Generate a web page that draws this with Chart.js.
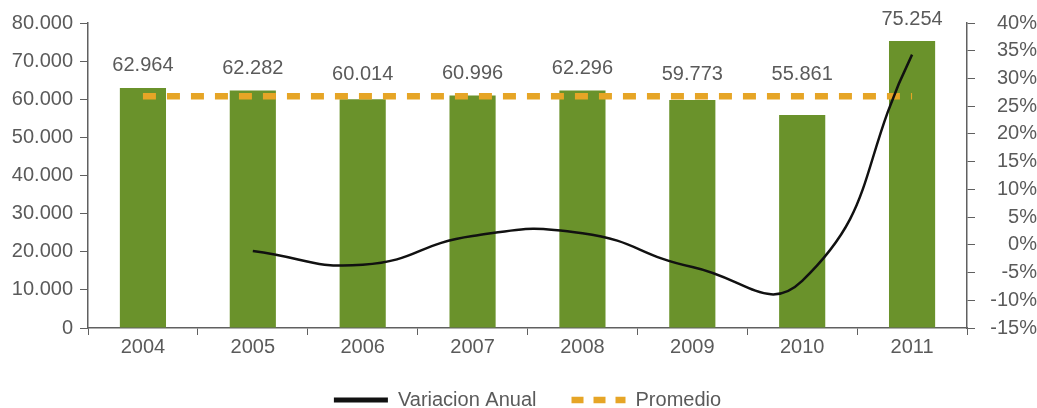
<!DOCTYPE html>
<html>
<head>
<meta charset="utf-8">
<script src="https://cdn.jsdelivr.net/npm/chart.js@4/dist/chart.umd.min.js"></script>
<style>
  html, body { margin: 0; padding: 0; background: #ffffff; }
  #wrap { width: 1037px; height: 408px; position: relative; }
</style>
</head>
<body>
<div id="wrap"><canvas id="c" width="1037" height="408"></canvas></div>
<script>
// ---- data ----
const categories = ['2004', '2005', '2006', '2007', '2008', '2009', '2010', '2011'];
const barValues = [62964, 62282, 60014, 60996, 62296, 59773, 55861, 75254];
const variacionAnual = [null, -1.1, -3.6, 1.6, 2.1, -4.0, -6.5, 34.3];
const promedio = [60800, 60800, 60800, 60800, 60800, 60800, 60800, 60800];
const leftTicks = { min: 0, max: 80000, step: 10000 };
const rightTicks = { min: -15, max: 40, step: 5 };

const FONT = '"Liberation Sans", Arial, sans-serif';
const GREY = '#5a5a5a';
const AXIS = '#606060';

function fmtThousands(v) {
  return String(v).replace(/\B(?=(\d{3})+(?!\d))/g, '.');
}

const barLabels = {
  id: 'barLabels',
  afterDatasetsDraw(chart) {
    const ctx = chart.ctx;
    const barMeta = chart.getDatasetMeta(2);
    const avgMeta = chart.getDatasetMeta(1);
    ctx.save();
    ctx.font = '20px ' + FONT;
    ctx.fillStyle = GREY;
    ctx.textAlign = 'center';
    ctx.textBaseline = 'middle';
    barMeta.data.forEach((bar, i) => {
      const top = Math.min(bar.y, avgMeta.data[i].y);
      ctx.fillText(fmtThousands(barValues[i]), bar.x, top - 22);
    });
    ctx.restore();
  }
};

new Chart(document.getElementById('c'), {
  type: 'bar',
  data: {
    labels: categories,
    datasets: [
      {
        type: 'line',
        label: 'Variacion Anual',
        data: variacionAnual,
        yAxisID: 'y1',
        borderColor: '#111111',
        backgroundColor: '#111111',
        borderWidth: 2.5,
        tension: 0.5,
        pointRadius: 0,
        pointHoverRadius: 0,
        pointStyle: 'line',
        fill: false
      },
      {
        type: 'line',
        label: 'Promedio',
        data: promedio,
        yAxisID: 'y',
        borderColor: '#e6a526',
        backgroundColor: '#e6a526',
        borderWidth: 6.5,
        borderDash: [13, 11],
        borderCapStyle: 'butt',
        pointRadius: 0,
        pointHoverRadius: 0,
        pointStyle: 'line',
        fill: false
      },
      {
        type: 'bar',
        label: 'Valores',
        data: barValues,
        yAxisID: 'y',
        backgroundColor: '#6a922b',
        borderWidth: 0,
        categoryPercentage: 1.0,
        barPercentage: 0.42
      }
    ]
  },
  options: {
    responsive: false,
    animation: false,
    devicePixelRatio: 1,
    layout: { padding: { left: 0, right: 0, top: 23, bottom: -12 } },
    plugins: {
      tooltip: { enabled: false },
      legend: {
        position: 'bottom',
        fullSize: false,
        labels: {
          filter: (item) => item.datasetIndex !== 2,
          generateLabels(chart) {
            const items = Chart.defaults.plugins.legend.labels.generateLabels(chart);
            return items.map((item) => {
              const ds = chart.data.datasets[item.datasetIndex];
              item.lineDash = ds.borderDash ? [12, 10] : [];
              item.lineWidth = ds.borderDash ? 6.5 : 5;
              item.strokeStyle = ds.borderColor;
              return item;
            });
          },
          usePointStyle: true,
          pointStyleWidth: 54,
          font: { family: FONT, size: 20 },
          color: GREY,
          padding: 35
        }
      }
    },
    scales: {
      x: {
        grid: { display: true, drawOnChartArea: false, drawTicks: true, tickLength: 7, color: AXIS, offset: true },
        border: { display: true, color: AXIS, width: 1.5 },
        ticks: { font: { family: FONT, size: 20 }, color: GREY, padding: 0 },
        afterFit(scale) { scale.height = 27; }
      },
      y: {
        position: 'left',
        min: leftTicks.min,
        max: leftTicks.max,
        grid: { drawOnChartArea: false, drawTicks: true, tickLength: 8, color: AXIS },
        border: { display: true, color: AXIS, width: 1.5 },
        ticks: {
          stepSize: leftTicks.step,
          autoSkip: false,
          font: { family: FONT, size: 20 },
          color: GREY,
          padding: 7,
          callback: (v) => fmtThousands(v)
        },
        afterFit(scale) { scale.width = 88; }
      },
      y1: {
        position: 'right',
        min: rightTicks.min,
        max: rightTicks.max,
        grid: { drawOnChartArea: false, drawTicks: true, tickLength: 8, color: AXIS },
        border: { display: true, color: AXIS, width: 1.5 },
        ticks: {
          stepSize: rightTicks.step,
          autoSkip: false,
          font: { family: FONT, size: 20 },
          color: GREY,
          padding: 4,
          crossAlign: 'far',
          callback: (v) => v + '%'
        },
        afterFit(scale) { scale.width = 70; }
      }
    }
  },
  plugins: [barLabels]
});
</script>
</body>
</html>
